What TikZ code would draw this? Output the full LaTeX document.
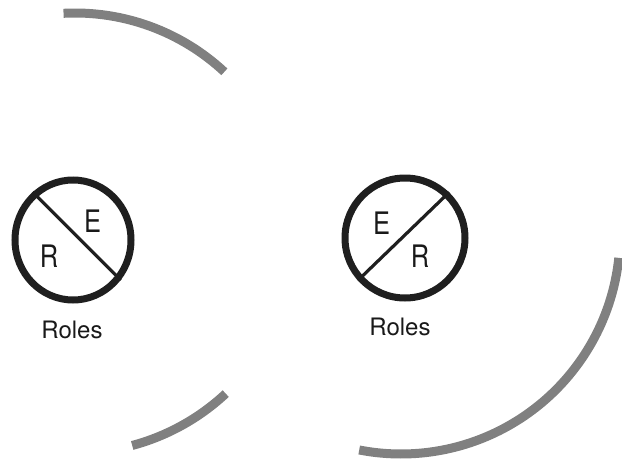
\documentclass[tikz,border=0pt]{standalone}
\usepackage{fontspec}
\setmainfont{TeX Gyre Heros}
\newfontfamily\narrowsans{TeX Gyre Heros}[FakeStretch=0.82]
\usetikzlibrary{shapes.geometric}
\begin{document}
\begin{tikzpicture}[x=1pt,y=-1pt,
  role/.style={ellipse, draw=black!88, line width=7pt, inner sep=0pt},
  divider/.style={draw=black!88, line width=3.2pt},
  letter/.style={font=\narrowsans\fontsize{31}{31}\selectfont, inner sep=0pt, text=black!90},
  caption/.style={font=\fontsize{24}{24}\selectfont, inner sep=0pt, text=black!90},
  halo/.style={draw=black!50, line width=9pt}]
\useasboundingbox (0,0) rectangle (622,463);
% faint large arcs
\draw[halo] ([shift={(75,232)}]-93:219) arc[start angle=-93, end angle=-47, radius=219];
\draw[halo] ([shift={(75,232)}]47:221) arc[start angle=47, end angle=75, radius=221];
\draw[halo] ([shift={(401,235)}]6:219) arc[start angle=6, end angle=101, radius=219];
% left role symbol
\node[role, minimum width=116pt, minimum height=120pt] (c1) at (73,240) {};
\draw[divider] (c1.130) -- (c1.-40);
\node[letter] (e1) at (92.5,221.5) {E};
\node[letter] (r1) at (49,256) {R};
\node[caption] (l1) at (72,330) {Roles};
% right role symbol
\node[role, minimum width=120pt, minimum height=120pt] (c2) at (405,238) {};
\draw[divider] (c2.222) -- (c2.46);
\node[letter] (e2) at (381.5,223.5) {E};
\node[letter] (r2) at (420,256) {R};
\node[caption] (l2) at (400,327) {Roles};
\end{tikzpicture}
\end{document}
